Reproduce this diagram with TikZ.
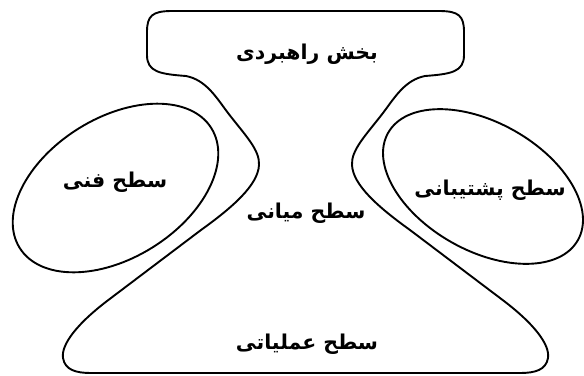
\documentclass[tikz,border=0pt]{standalone}
\usepackage{fontspec}
\newfontfamily\arabicfont[Script=Arabic]{DejaVu Sans Bold}
\TeXXeTstate=1
\begin{document}
\begin{tikzpicture}[x=1bp,y=-1bp,
  outline/.style={draw=black,line width=1.9bp,line join=round},
  lbl/.style={font=\arabicfont\fontsize{20.5}{24}\selectfont,inner sep=0pt}]
\useasboundingbox (0,0) rectangle (584,375);
% main configuration outline
\draw[outline] (186,76) .. controls (160,74) and (147,72) .. (147,55) -- (147,32)
  .. controls (147,16) and (152,11) .. (172,11) -- (439,11)
  .. controls (459,11) and (464,16) .. (464,32) -- (464,55)
  .. controls (464,72) and (451,74) .. (425,76)
  .. controls (405,80) and (395,97) .. (383,113)
  .. controls (366,135) and (351,150) .. (352,165)
  .. controls (353,185) and (378,207) .. (410,230) -- (500,298)
  .. controls (535,324) and (550,345) .. (548,358)
  .. controls (546,370) and (535,373) .. (520,373) -- (91,373)
  .. controls (76,373) and (65,370) .. (63,358)
  .. controls (61,345) and (76,324) .. (111,298) -- (201,230)
  .. controls (233,207) and (258,185) .. (259,165)
  .. controls (260,150) and (245,135) .. (228,113)
  .. controls (216,97) and (206,80) .. (186,76) -- cycle;
% technostructure and support staff
\draw[outline,rotate around={32:(115.5,188)}] (115.5,188) ellipse [x radius=113,y radius=70];
\draw[outline,rotate around={-29.5:(483,186.5)}] (483,186.5) ellipse [x radius=109,y radius=64];
% labels
\node[lbl] (apex) at (307,54) {\beginR بخش راهبردی\endR};
\node[lbl] (mid) at (306,213) {\beginR سطح میانی\endR};
\node[lbl] (core) at (307,344) {\beginR سطح عملیاتی\endR};
\node[lbl] (tech) at (115,182) {\beginR سطح فنی\endR};
\node[lbl] (supp) at (490,190) {\beginR سطح پشتیبانی\endR};
\end{tikzpicture}
\end{document}
